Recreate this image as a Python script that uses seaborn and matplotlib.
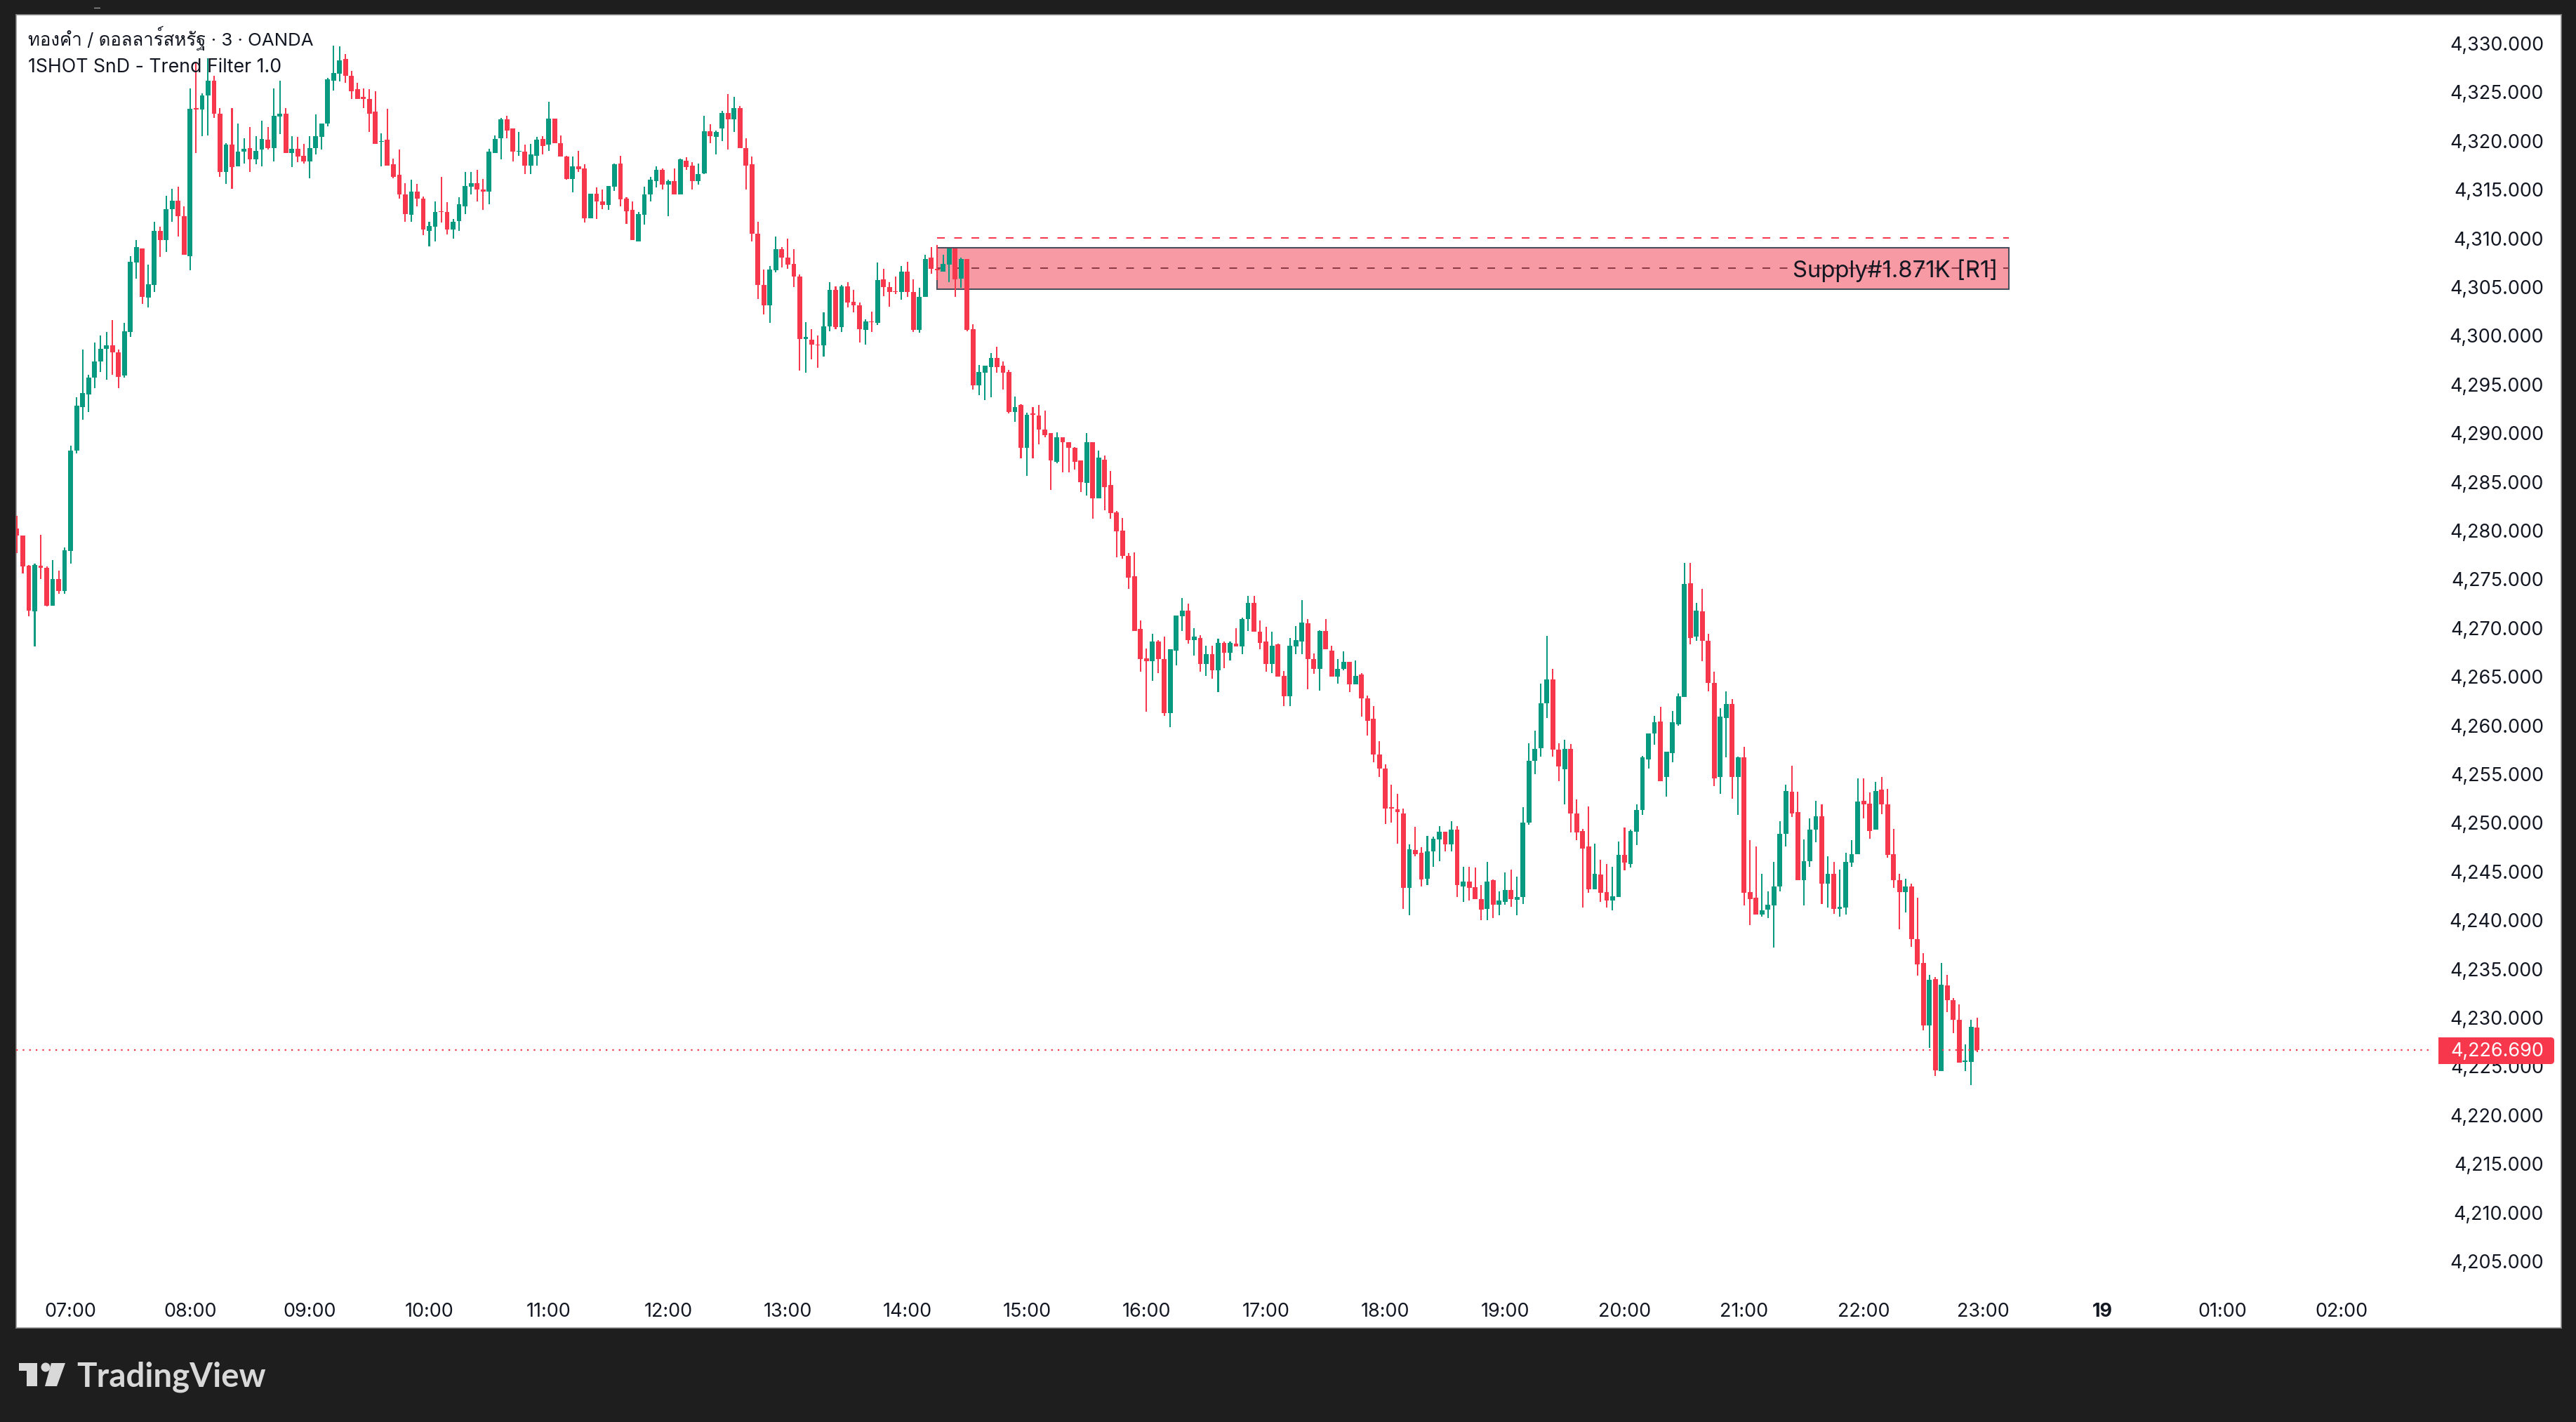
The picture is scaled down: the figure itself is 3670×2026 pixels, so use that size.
import numpy as np
import pandas as pd
import seaborn as sns
import matplotlib
matplotlib.use("Agg")
import matplotlib.pyplot as plt
from matplotlib import font_manager as fm
from matplotlib.ft2font import FT2Font
from matplotlib.patches import Rectangle, FancyBboxPatch, Polygon, Circle
from matplotlib.lines import Line2D
from matplotlib.transforms import IdentityTransform

opens = [
4280.2,4279.5,4276.4,4271.7,4276.4,4276.2,4272.3,4275.0,4273.8,4277.9,
4288.2,4292.7,4294.0,4295.7,4297.4,4298.7,4299.0,4298.3,4295.9,4300.4,
4307.5,4309.0,4303.9,4305.2,4310.8,4309.8,4313.0,4313.9,4312.3,4308.2,
4323.4,4323.2,4324.7,4326.2,4322.8,4316.8,4319.6,4317.4,4318.9,4319.3,
4318.1,4319.1,4320.1,4319.3,4322.5,4322.8,4318.8,4319.2,4318.5,4317.9,
4319.3,4320.4,4321.8,4326.2,4326.9,4328.4,4326.7,4325.3,4324.5,4324.3,
4323.0,4319.9,4320.1,4317.6,4316.5,4314.5,4312.4,4314.8,4314.1,4310.8,
4311.2,4312.8,4312.7,4310.9,4311.8,4313.3,4315.3,4315.7,4315.0,4314.8,
4318.8,4320.3,4322.2,4321.3,4318.9,4318.9,4317.5,4318.5,4320.2,4319.6,
4322.3,4319.8,4318.4,4316.1,4317.4,4317.2,4312.1,4314.6,4313.8,4313.4,
4315.3,4317.7,4314.1,4312.9,4309.7,4312.4,4314.5,4315.9,4317.0,4315.5,
4315.9,4314.5,4318.0,4317.5,4315.9,4316.7,4321.0,4320.4,4321.3,4322.9,
4322.2,4323.4,4319.3,4317.6,4310.5,4305.2,4303.1,4306.7,4308.9,4308.0,
4307.4,4306.1,4299.7,4299.6,4299.1,4299.0,4301.0,4304.7,4300.9,4305.1,
4303.5,4303.1,4300.6,4301.5,4301.3,4305.8,4305.0,4304.6,4304.5,4306.6,
4304.5,4300.6,4304.0,4308.0,4306.9,4306.6,4307.3,4309.0,4305.9,4307.9,
4300.7,4294.9,4296.2,4296.8,4297.7,4296.9,4296.3,4292.2,4292.9,4288.5,
4292.0,4291.8,4290.4,4290.0,4287.1,4289.6,4289.1,4288.5,4287.2,4284.9,
4289.1,4283.3,4287.3,4284.7,4281.9,4280.0,4277.4,4275.3,4269.9,4266.9,
4266.6,4268.6,4266.8,4261.3,4267.7,4271.2,4271.8,4268.8,4269.0,4266.3,
4267.3,4265.7,4268.5,4267.5,4268.4,4268.1,4270.9,4272.6,4269.6,4268.6,
4266.3,4268.3,4265.1,4263.0,4268.1,4268.6,4270.5,4266.8,4265.8,4269.7,
4267.7,4265.0,4265.8,4266.5,4264.2,4265.2,4262.8,4260.7,4257.0,4255.6,
4251.6,4251.4,4251.0,4243.3,4247.2,4246.9,4244.3,4247.1,4248.3,4249.1,
4247.8,4249.3,4243.5,4244.0,4243.4,4242.2,4241.2,4244.1,4241.6,4241.9,
4243.1,4242.1,4242.4,4250.0,4256.4,4257.7,4262.3,4264.7,4257.5,4255.5,
4257.6,4251.0,4249.2,4247.6,4243.2,4244.7,4242.9,4242.0,4242.4,4246.7,
4245.8,4249.1,4251.3,4256.5,4259.2,4260.4,4254.7,4257.2,4260.1,4262.9,
4274.6,4269.1,4271.7,4268.7,4264.4,4254.7,4260.8,4262.2,4254.7,4256.7,
4242.9,4242.3,4240.6,4241.1,4241.5,4243.5,4248.9,4253.2,4251.1,4244.1,
4246.1,4249.3,4250.7,4243.8,4244.8,4241.2,4241.3,4245.9,4246.8,4252.3,
4252.0,4249.3,4253.4,4251.9,4246.8,4244.1,4242.9,4243.5,4238.1,4235.6,
4229.2,4234.0,4224.5,4233.3,4231.8,4229.8,4225.5,4225.5,4229.0]

highs = [
4281.5,4279.5,4276.5,4276.6,4279.6,4276.3,4277.0,4275.9,4278.3,4288.7,
4293.7,4298.6,4296.0,4299.3,4300.0,4300.4,4301.6,4298.6,4301.3,4308.2,
4309.8,4309.0,4307.3,4311.7,4311.2,4314.4,4315.1,4315.3,4313.3,4325.4,
4328.0,4324.9,4328.5,4326.7,4323.4,4319.8,4323.4,4321.8,4320.3,4321.4,
4320.5,4322.1,4321.4,4325.4,4326.2,4323.4,4320.5,4320.4,4319.7,4320.5,
4322.7,4321.8,4326.5,4329.8,4329.7,4328.9,4327.2,4326.0,4325.4,4325.3,
4325.1,4320.8,4323.3,4318.2,4319.1,4315.7,4316.0,4315.6,4314.3,4311.7,
4313.8,4316.3,4313.7,4312.0,4314.2,4316.8,4316.8,4317.0,4316.1,4319.2,
4320.6,4322.4,4322.6,4321.3,4320.9,4319.6,4319.7,4320.4,4320.5,4324.0,
4322.3,4320.6,4318.5,4318.4,4319.0,4317.6,4314.6,4315.2,4315.0,4315.4,
4317.7,4318.5,4314.2,4313.8,4312.7,4315.3,4316.3,4317.4,4317.2,4316.0,
4317.2,4318.2,4318.3,4317.8,4317.7,4322.6,4321.7,4321.1,4323.1,4324.8,
4324.5,4323.6,4320.3,4318.4,4311.7,4306.8,4307.2,4310.2,4309.1,4310.0,
4308.9,4306.3,4301.4,4300.7,4300.0,4302.4,4305.5,4305.1,4305.2,4305.5,
4304.7,4303.4,4301.7,4302.5,4307.5,4306.9,4305.5,4306.1,4307.2,4307.6,
4305.8,4304.9,4308.3,4309.1,4309.3,4308.3,4309.0,4309.0,4308.0,4307.9,
4301.2,4297.0,4296.9,4298.2,4298.9,4297.4,4296.5,4293.8,4293.0,4292.1,
4292.7,4292.9,4292.3,4290.0,4290.1,4289.6,4289.1,4288.6,4287.2,4290.0,
4289.1,4288.2,4287.7,4286.1,4282.0,4281.3,4277.7,4277.8,4270.8,4267.9,
4269.4,4268.8,4269.1,4267.8,4271.3,4273.1,4272.5,4270.0,4269.3,4268.2,
4268.2,4268.9,4268.6,4268.6,4270.0,4271.1,4273.3,4273.3,4270.8,4270.1,
4269.6,4268.4,4265.6,4269.0,4270.2,4272.9,4270.9,4267.4,4269.8,4270.9,
4268.2,4266.8,4267.6,4266.5,4266.7,4265.4,4263.1,4262.0,4258.4,4256.0,
4253.9,4253.0,4251.5,4247.8,4249.6,4247.5,4248.7,4248.6,4249.7,4249.1,
4250.2,4249.7,4245.5,4245.5,4245.4,4243.6,4246.0,4244.2,4243.0,4244.9,
4245.2,4244.5,4251.6,4258.2,4259.5,4264.3,4269.2,4265.8,4258.2,4258.5,
4258.1,4252.4,4249.4,4251.7,4247.9,4246.2,4245.8,4245.5,4248.1,4249.5,
4249.3,4251.9,4256.9,4259.2,4261.0,4261.9,4257.3,4261.5,4263.3,4276.7,
4276.7,4272.6,4274.0,4269.4,4265.5,4261.8,4263.5,4262.7,4256.8,4257.8,
4248.2,4247.6,4244.8,4243.0,4246.0,4250.2,4253.9,4255.9,4253.2,4248.3,
4250.5,4252.3,4251.9,4246.6,4246.0,4245.2,4246.9,4248.2,4254.6,4254.6,
4253.1,4254.2,4254.7,4253.5,4249.4,4244.8,4244.3,4243.8,4242.3,4236.6,
4234.4,4234.2,4235.6,4234.4,4232.0,4231.4,4227.3,4229.8,4230.0]

lows = [
4277.7,4275.6,4271.2,4268.1,4275.0,4272.2,4272.3,4273.5,4273.5,4276.6,
4287.9,4291.4,4292.2,4294.6,4296.3,4295.5,4296.0,4294.6,4295.7,4299.9,
4305.9,4303.3,4302.9,4304.5,4308.1,4308.6,4311.7,4310.2,4308.3,4306.7,
4318.8,4320.5,4320.6,4322.4,4316.3,4315.6,4315.1,4317.4,4317.7,4316.8,
4317.6,4317.4,4319.1,4317.9,4320.7,4318.8,4317.3,4317.8,4317.7,4316.2,
4318.6,4319.1,4321.5,4325.2,4326.1,4326.0,4324.3,4324.3,4323.4,4320.9,
4319.7,4317.4,4317.5,4316.2,4314.1,4311.7,4311.7,4313.3,4310.3,4309.2,
4309.7,4311.6,4310.4,4310.0,4310.8,4312.5,4314.5,4313.8,4312.9,4313.5,
4318.8,4318.1,4320.3,4317.9,4318.5,4316.6,4316.6,4317.5,4318.6,4319.0,
4319.8,4318.4,4316.0,4314.7,4316.8,4311.6,4312.1,4312.0,4313.0,4312.9,
4314.9,4313.3,4311.5,4309.8,4309.7,4311.4,4313.8,4315.2,4315.0,4312.3,
4314.5,4314.5,4317.0,4315.0,4315.5,4316.6,4319.8,4318.6,4320.0,4319.1,
4320.9,4319.3,4315.0,4309.7,4303.8,4302.2,4301.3,4306.5,4307.0,4306.9,
4305.0,4296.4,4296.2,4297.6,4296.7,4297.9,4300.5,4300.7,4300.4,4302.9,
4302.4,4299.3,4299.1,4300.4,4301.1,4304.1,4303.0,4304.3,4303.7,4304.0,
4300.4,4300.3,4304.0,4306.4,4305.7,4306.6,4305.5,4304.0,4304.9,4300.5,
4294.5,4293.9,4293.4,4293.7,4296.2,4294.5,4292.0,4291.2,4287.4,4285.6,
4287.4,4288.9,4289.6,4284.2,4286.9,4286.0,4286.0,4286.3,4284.0,4283.6,
4281.2,4283.3,4282.1,4281.2,4277.3,4277.1,4274.0,4269.7,4265.5,4261.4,
4264.6,4265.4,4261.0,4259.8,4266.2,4269.7,4268.4,4267.2,4265.5,4265.1,
4264.8,4263.4,4265.9,4266.7,4268.1,4267.3,4269.7,4269.6,4267.8,4265.5,
4265.4,4265.0,4262.0,4262.0,4267.3,4267.3,4263.7,4265.3,4263.6,4267.8,
4265.0,4264.3,4265.7,4263.4,4264.2,4260.9,4259.0,4256.2,4254.7,4249.9,
4250.0,4247.9,4241.2,4240.5,4246.6,4243.5,4243.6,4245.5,4246.1,4247.1,
4247.1,4242.4,4241.9,4242.0,4242.2,4240.0,4240.0,4240.2,4240.5,4241.6,
4241.4,4240.5,4241.7,4249.8,4255.0,4256.8,4260.8,4256.8,4254.3,4251.9,
4249.0,4248.2,4241.3,4242.8,4243.2,4241.9,4241.3,4241.0,4242.4,4245.1,
4245.4,4247.7,4250.8,4255.6,4258.0,4254.3,4252.7,4256.2,4260.0,4262.9,
4268.3,4268.7,4266.6,4263.5,4253.8,4253.0,4256.7,4252.5,4250.8,4241.5,
4239.5,4240.6,4240.4,4240.2,4237.2,4243.0,4247.6,4250.6,4244.1,4241.5,
4245.5,4248.0,4241.7,4241.3,4240.7,4240.4,4240.6,4245.5,4246.8,4250.5,
4248.4,4249.3,4250.9,4246.4,4243.3,4239.1,4240.8,4237.3,4234.3,4228.7,
4226.9,4224.0,4224.5,4230.6,4228.4,4225.4,4224.5,4223.1,4226.5]

closes = [
4279.5,4276.3,4271.8,4276.5,4276.2,4272.3,4275.0,4273.8,4278.0,4288.2,
4292.8,4294.1,4295.7,4297.4,4298.7,4299.0,4298.3,4295.8,4300.5,4307.6,
4309.1,4304.0,4305.3,4310.8,4309.8,4313.0,4313.9,4312.3,4308.3,4323.3,
4323.2,4324.7,4326.2,4322.8,4316.8,4319.6,4317.3,4318.9,4319.2,4318.1,
4319.0,4320.2,4319.3,4322.6,4322.8,4318.8,4319.2,4318.4,4317.9,4319.3,
4320.5,4321.8,4326.3,4327.0,4328.3,4326.7,4325.1,4324.3,4324.3,4322.8,
4319.7,4320.0,4317.5,4316.3,4314.5,4312.5,4314.8,4314.1,4310.9,4311.3,
4312.7,4312.7,4310.9,4311.7,4313.5,4315.4,4315.7,4315.0,4314.8,4318.9,
4320.2,4322.2,4321.1,4318.9,4319.0,4317.5,4318.6,4320.1,4319.5,4322.3,
4319.8,4318.4,4316.1,4317.4,4317.1,4312.1,4314.6,4313.8,4313.4,4315.4,
4317.6,4314.0,4312.8,4309.8,4312.5,4314.5,4316.0,4317.0,4315.5,4315.9,
4314.5,4318.1,4317.3,4315.9,4316.6,4321.0,4320.5,4320.9,4322.9,4322.2,
4323.4,4319.3,4317.5,4310.5,4305.2,4303.1,4306.8,4308.9,4308.0,4307.3,
4306.1,4299.7,4299.9,4299.1,4299.0,4301.0,4304.7,4300.9,4305.1,4303.4,
4303.1,4300.7,4301.5,4301.4,4305.7,4305.0,4304.5,4304.5,4306.6,4304.5,
4300.6,4304.0,4307.9,4306.9,4306.7,4307.4,4309.0,4305.8,4307.9,4300.6,
4294.9,4296.3,4296.9,4297.7,4296.8,4296.2,4292.2,4292.7,4288.5,4291.9,
4291.9,4290.4,4289.8,4287.2,4289.6,4289.1,4288.5,4287.1,4285.0,4289.1,
4283.3,4287.5,4284.5,4281.8,4279.9,4277.4,4275.2,4269.7,4266.8,4266.6,
4268.6,4266.8,4261.3,4267.8,4271.3,4271.8,4268.8,4269.1,4266.3,4267.3,
4265.7,4268.5,4267.5,4268.5,4268.1,4270.9,4272.6,4269.6,4268.5,4266.3,
4268.2,4265.0,4263.0,4268.2,4268.8,4270.6,4266.8,4265.8,4269.7,4267.8,
4265.0,4265.8,4266.5,4264.2,4265.1,4262.8,4260.5,4257.0,4255.6,4251.5,
4251.5,4251.1,4243.3,4247.3,4246.8,4244.2,4247.1,4248.4,4249.1,4247.8,
4249.3,4243.6,4244.0,4243.3,4242.2,4241.1,4244.0,4241.6,4242.0,4243.1,
4242.2,4242.4,4250.0,4256.4,4257.6,4262.3,4264.7,4257.5,4255.8,4257.6,
4251.0,4249.0,4247.4,4243.2,4244.8,4242.8,4242.0,4242.5,4246.7,4245.9,
4249.2,4251.3,4256.7,4259.2,4260.3,4254.3,4257.3,4260.3,4263.0,4274.5,
4269.0,4271.8,4268.7,4264.4,4254.6,4260.9,4262.2,4254.7,4256.7,4242.8,
4242.2,4240.6,4241.0,4241.6,4243.5,4248.9,4253.3,4251.0,4244.1,4246.1,
4249.3,4250.7,4243.8,4244.8,4241.2,4241.4,4246.0,4246.8,4252.2,4251.9,
4249.2,4253.3,4251.9,4246.7,4244.1,4242.9,4243.5,4238.1,4235.5,4229.2,
4233.9,4224.6,4233.4,4231.8,4229.8,4225.4,4225.6,4229.1,4226.69]

price_ticks = list(range(4205, 4335, 5))
time_labels = ["07:00", "08:00", "09:00", "10:00", "11:00", "12:00", "13:00", "14:00", "15:00",
               "16:00", "17:00", "18:00", "19:00", "20:00", "21:00", "22:00", "23:00", "19", "01:00", "02:00"]
first_hour_candle = 9
candles_per_hour = 20
last_price = 4226.69
zone_top, zone_bottom, zone_mid, zone_upper_dash = 4309.04, 4304.79, 4306.95, 4310.05
zone_start, zone_end = 154.0, 333.3
title_lines = ["ทองคำ / ดอลลาร์สหรัฐ · 3 · OANDA", "1SHOT SnD - Trend Filter 1.0"]
zone_label = "Supply#1.871K [R1]"

W, H = 3670, 2026
RED, GREEN, INK, DARK = "#F7374C", "#089981", "#131722", "#1E1E1E"


def thai_families():
    found = []
    for entry in fm.fontManager.ttflist:
        try:
            if ord("ค") in FT2Font(entry.fname).get_charmap() and entry.name not in found:
                found.append(entry.name)
        except Exception:
            pass
    return found


sns.set_theme(style="white")
title_family = ["Inter"] + thai_families() + ["Noto Sans", "DejaVu Sans"]
plt.rcParams["font.family"] = ["Inter", "Noto Sans", "DejaVu Sans"]
plt.rcParams["axes.unicode_minus"] = False

fig = plt.figure(figsize=(W / 100, H / 100), dpi=100, facecolor=DARK)
L, R, T, B = 23, 3649, 21, 1892
ax = fig.add_axes([L / W, 1 - B / H, (R - L) / W, (B - T) / H], facecolor="white")

df = pd.DataFrame({"i": np.arange(len(opens)), "o": opens, "h": highs, "l": lows, "c": closes})
df["low_body"] = df[["o", "c"]].min(axis=1)
df["body"] = (df["o"] - df["c"]).abs()
df["wick"] = df["h"] - df["l"]

for up, colour in ((True, GREEN), (False, RED)):
    sub = df[(df["c"] >= df["o"]) == up]
    sns.barplot(x=sub["i"].values, y=sub["wick"].values, bottom=sub["l"].values, native_scale=True,
                color=colour, saturation=1, width=0.24, errorbar=None, linewidth=0, zorder=3, ax=ax)
    sns.barplot(x=sub["i"].values, y=sub["body"].values, bottom=sub["low_body"].values, native_scale=True,
                color=colour, saturation=1, width=0.8, errorbar=None, linewidth=0, zorder=3.1, ax=ax)

ax.add_patch(Rectangle((zone_start, zone_bottom), zone_end - zone_start, zone_top - zone_bottom,
                       facecolor="#F89AA4", edgecolor="#4A4F5E", linewidth=1.5, zorder=1))
dash = (0, (5.5, 6.75))
ax.plot([zone_start, zone_end], [zone_upper_dash] * 2, color=RED, lw=1.44, ls=dash, dash_capstyle="butt", zorder=2)
ax.plot([zone_start, zone_end], [zone_mid] * 2, color="#8C3A47", lw=1.44, ls=dash, dash_capstyle="butt", zorder=2)
ax.text(zone_end - 1.9, zone_mid - 0.25, zone_label, ha="right", va="center", fontsize=23.6, color=INK, zorder=4)

ax.axhline(last_price, xmin=0, xmax=(3465 - L) / (R - L), color=RED, lw=1.6,
           ls=(0, (1, 3.2)), zorder=3.5)

ax.set_xlim(first_hour_candle + (L - 100.6) / 8.515, first_hour_candle + (R - 100.6) / 8.515)
ax.set_ylim(last_price + (1496 - B) / 13.88, last_price + (1496 - T) / 13.88)
ax.set_xlabel("")
ax.set_ylabel("")

ax.yaxis.tick_right()
ax.set_yticks(price_ticks)
ax.set_yticklabels([f"{v:,.3f}" for v in price_ticks], ha="right")
ax.tick_params(axis="y", length=0, pad=-18, labelsize=19.4, labelcolor=INK)
ax.set_xticks([first_hour_candle + candles_per_hour * k for k in range(len(time_labels))])
ax.set_xticklabels(time_labels)
ax.tick_params(axis="x", length=0, pad=-26, labelsize=19.4, labelcolor=INK)
for lab in ax.get_xticklabels():
    if lab.get_text() == "19":
        lab.set_fontweight("bold")
for s in ax.spines.values():
    s.set_visible(True)
    s.set_color("#8A8A8A")
    s.set_linewidth(1.1)

for line, ypx, size in zip(title_lines, (65, 103), (18.6, 19.25)):
    ax.text((40 - L) / (R - L), 1 - (ypx - T) / (B - T), line, transform=ax.transAxes, ha="left", va="baseline",
            fontsize=size, color=INK, zorder=6, family=title_family)

idt = IdentityTransform()
ax.add_patch(FancyBboxPatch((3480, H - 1516), 159, 38, boxstyle="round,pad=0,rounding_size=5",
                            facecolor=RED, edgecolor="none", transform=idt, zorder=5, clip_on=False))
ax.add_patch(Rectangle((3474, H - 1516), 30, 38, facecolor=RED, edgecolor="none", transform=idt, zorder=5, clip_on=False))
ax.text((3624 - L) / (R - L), last_price - 0.12, f"{last_price:,.3f}", transform=ax.get_yaxis_transform(),
        ha="right", va="center", fontsize=19.4, color="white", zorder=6)

fig.add_artist(Line2D([134 / W, 142 / W], [1 - 11 / H] * 2, color="#9A9A9A", lw=1))

LOGO = "#D9D9D9"
def px(x, y):
    return (x, H - y)
fig.add_artist(Polygon([px(27, 1942), px(53, 1942), px(53, 1975), px(38, 1975), px(38, 1953), px(27, 1953)],
                       closed=True, facecolor=LOGO, edgecolor="none", transform=idt))
fig.add_artist(Circle(px(65, 1948), 6.5, facecolor=LOGO, edgecolor="none", transform=idt))
fig.add_artist(Polygon([px(73, 1942), px(93, 1942), px(81, 1975), px(64, 1975)],
                       closed=True, facecolor=LOGO, edgecolor="none", transform=idt))
fig.text(109 / W, 1 - 1975 / H, "TradingView", ha="left", va="baseline", fontsize=34.2, color=LOGO,
         family=["Lato"], fontweight="bold")

fig.savefig("out.png", dpi=100, facecolor=DARK)
